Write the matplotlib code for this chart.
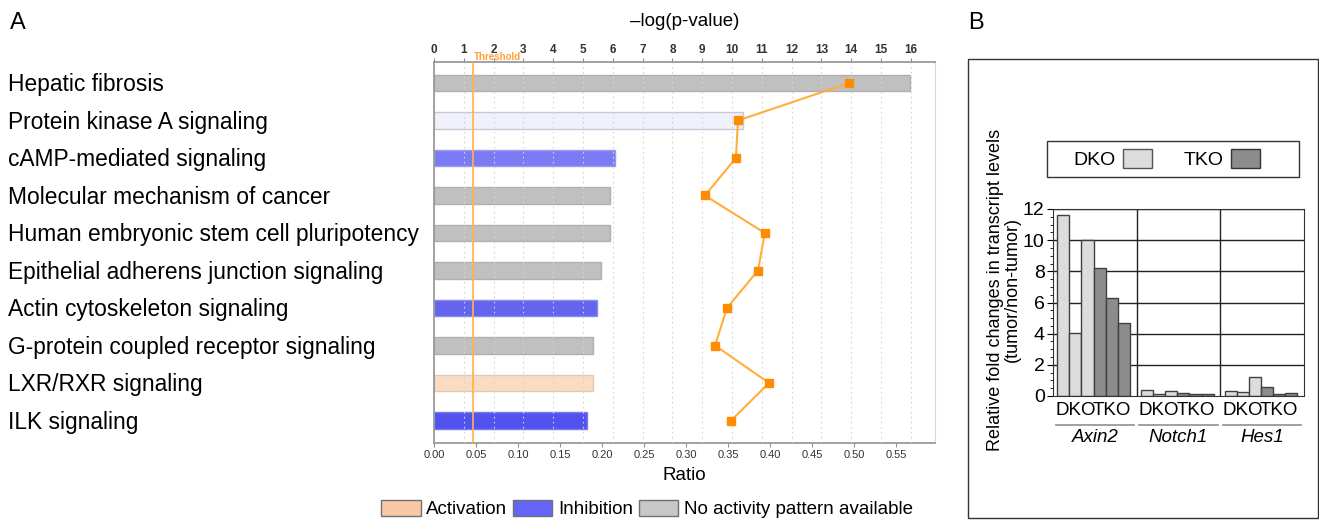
import matplotlib.pyplot as plt
import numpy as np
from matplotlib.patches import Patch, Rectangle
from matplotlib.transforms import blended_transform_factory

plt.rcParams['font.family'] = ['Liberation Sans', 'DejaVu Sans']

W, H = 1319, 520


def box(l, t, r, b):
    # pixel box -> figure fraction [left, bottom, width, height]
    return [l / W, 1 - b / H, (r - l) / W, (b - t) / H]


# ---- panel A data ----
pathways = ['Hepatic fibrosis', 'Protein kinase A signaling', 'cAMP-mediated signaling',
            'Molecular mechanism of cancer', 'Human embryonic stem cell pluripotency',
            'Epithelial adherens junction signaling', 'Actin cytoskeleton signaling',
            'G-protein coupled receptor signaling', 'LXR/RXR signaling', 'ILK signaling']
ratio = [0.567, 0.368, 0.215, 0.210, 0.210, 0.199, 0.194, 0.189, 0.189, 0.182]
neglogp = [13.93, 10.2, 10.13, 9.09, 11.1, 10.87, 9.83, 9.43, 11.24, 9.97]
threshold = 1.3

bar_face = ['#c0c0c0', '#f0f1fb', '#7b7bf3', '#c0c0c0', '#c0c0c0',
            '#c0c0c0', '#6464ef', '#c0c0c0', '#fadcc2', '#5252ee']
bar_edge = ['#b0b0b0', '#c8c8d4', '#9a9af0', '#b0b0b0', '#b0b0b0',
            '#b0b0b0', '#8a8aee', '#b0b0b0', '#e0c8b4', '#7a7aee']

legend_labels = ['Activation', 'Inhibition', 'No activity pattern available']
legend_colors = ['#f9c9a6', '#6464fa', '#c8c8c8']

# ---- panel B data ----
genes = ['Axin2', 'Notch1', 'Hes1']
dko = [[11.6, 4.05, 10.0], [0.4, 0.15, 0.3], [0.3, 0.25, 1.2]]
tko = [[8.2, 6.3, 4.7], [0.22, 0.12, 0.12], [0.55, 0.15, 0.22]]

fig = plt.figure(figsize=(W / 100, H / 100), dpi=100)

# ================= panel A =================
ax = fig.add_axes(box(434, 62, 935, 443))
y = np.arange(len(pathways))
ax.barh(y, ratio, height=0.43, color=bar_face, edgecolor=bar_edge, linewidth=1, zorder=2)
ax.set_xlim(0, 0.5964)
ax.set_ylim(len(pathways) - 0.4, -0.56)
ax.set_yticks([])
ax.set_xticks(np.arange(0, 0.56, 0.05))
ax.set_xticklabels(['%.2f' % v for v in np.arange(0, 0.56, 0.05)], fontsize=8, color='#333333')
ax.tick_params(axis='x', length=3, color='#909090', pad=2)
ax.set_xlabel('Ratio', fontsize=13.5, labelpad=5)
for s in ['left', 'bottom', 'top']:
    ax.spines[s].set_color('#9a9a9a')
    ax.spines[s].set_linewidth(1.3)
ax.spines['right'].set_color('#d8d8d8')

ax2 = ax.twiny()
ax2.set_xlim(0, 16.81)
ax2.set_xticks(range(0, 17))
ax2.tick_params(axis='x', labelsize=8.5, length=3, color='#909090', pad=1)
for lab in ax2.get_xticklabels():
    lab.set_fontweight('bold')
    lab.set_color('#333333')
ax2.set_xlabel('\u2013log(p-value)', fontsize=13.5, labelpad=13)
for s in ax2.spines.values():
    s.set_visible(False)
for v in range(1, 17):
    ax2.axvline(v, color='#d4d4d4', lw=0.8, ls=(0, (1.5, 3)), zorder=0)
ax2.axvline(threshold, color='#ffb347', lw=1.2, zorder=1)
ax2.text(threshold + 0.05, 1.0, 'Threshold', transform=blended_transform_factory(ax2.transData, ax2.transAxes),
         color='#ffa030', fontsize=7, fontweight='bold', va='bottom', ha='left')
ax2.plot(neglogp, y, color='#ffae3a', lw=1.5, marker='s', markersize=5.5,
         markerfacecolor='#ff8c00', markeredgecolor='#ff8c00', zorder=3)

tr = blended_transform_factory(fig.transFigure, ax.transData)
for yi, name in zip(y, pathways):
    fig.text(8 / W, yi + 0.05, name, transform=tr, fontsize=16.4, va='center', ha='left')

handles = [Patch(facecolor=c, edgecolor='#707070', lw=1) for c in legend_colors]
fig.legend(handles, legend_labels, loc='center', bbox_to_anchor=(647 / W, 1 - 509 / H), ncol=3,
           frameon=False, fontsize=13.5, handlelength=2.1, handleheight=1.0,
           handletextpad=0.3, columnspacing=0.3, borderpad=0)

fig.text(10 / W, 1 - 23 / H, 'A', fontsize=17, va='center', ha='left')
fig.text(968 / W, 1 - 23 / H, 'B', fontsize=17, va='center', ha='left')

# ================= panel B =================
fig.patches.append(Rectangle((968 / W, 1 - 518 / H), (1318 - 968) / W, (518 - 59) / H,
                             transform=fig.transFigure, fill=False, edgecolor='#333333', lw=1))

bx = fig.add_axes(box(1053, 209, 1304, 396))
bw = 0.145
for g in range(len(genes)):
    vals = dko[g] + tko[g]
    cols = ['#dcdcdc'] * 3 + ['#8c8c8c'] * 3
    xs = g + 0.05 + bw * (np.arange(6) + 0.5)
    bx.bar(xs, vals, width=bw, color=cols, edgecolor='#404040', lw=1, zorder=2)
bx.set_xlim(0, 3)
bx.set_ylim(0, 12)
bx.set_yticks(range(0, 13, 2))
bx.set_yticks(np.arange(0, 12.1, 0.5), minor=True)
bx.tick_params(axis='y', labelsize=14, length=4, pad=2)
bx.tick_params(axis='y', which='minor', length=2)
bx.set_xticks([g + 0.05 + bw * k for g in range(3) for k in (1.5, 4.5)])
bx.set_xticklabels(['DKO', 'TKO'] * 3, fontsize=13.5)
bx.tick_params(axis='x', length=0, pad=4)
for v in range(2, 13, 2):
    bx.axhline(v, color='#222222', lw=1, zorder=1)
for v in (1, 2):
    bx.axvline(v, color='#222222', lw=1, zorder=1)
for s in bx.spines.values():
    s.set_color('#333333')

tb = blended_transform_factory(bx.transData, fig.transFigure)
for g, gene in enumerate(genes):
    bx.plot([g + 0.03, g + 0.97], [1 - 425 / H] * 2, transform=tb, color='#999999', lw=1.3, clip_on=False)
    fig.text(g + 0.5, 1 - 438 / H, gene, transform=tb, fontsize=13.5, style='italic', ha='center', va='center')

fig.text(1004 / W, 1 - 290 / H, 'Relative fold changes in transcript levels\n(tumor/non-tumor)',
         rotation=90, fontsize=13, ha='center', va='center', multialignment='center', linespacing=1.05)

# legend box of panel B: frame drawn separately, entries placed inside
fig.patches.append(Rectangle((1047 / W, 1 - 177 / H), 252 / W, 36 / H,
                             transform=fig.transFigure, fill=False, edgecolor='#333333', lw=1))
lh = [Patch(facecolor='#dcdcdc', edgecolor='#555555'), Patch(facecolor='#8c8c8c', edgecolor='#333333')]
fig.legend(lh, ['DKO', 'TKO'], loc='center left', bbox_to_anchor=(1073 / W, 1 - 159 / H), ncol=2,
           markerfirst=False, fontsize=14, handlelength=1.5, handleheight=1.1,
           handletextpad=0.4, columnspacing=1.6, frameon=False, borderpad=0, borderaxespad=0)

fig.savefig('out.png', dpi=100)
